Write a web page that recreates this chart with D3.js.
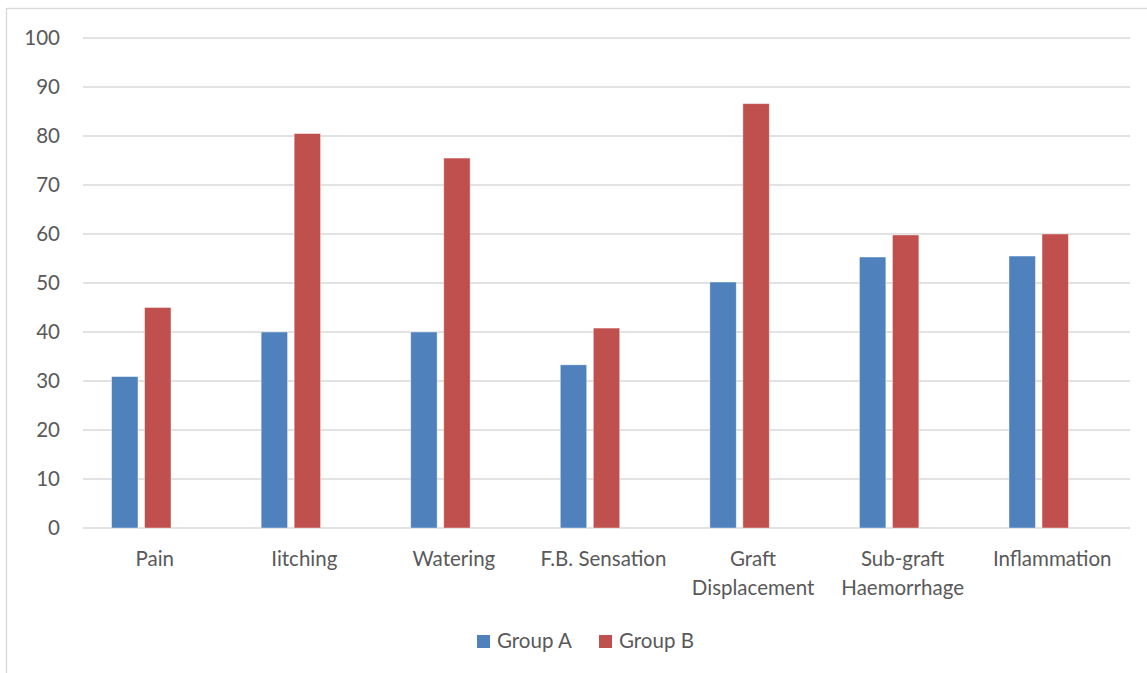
<!DOCTYPE html>
<head>
<meta charset="utf-8">
<script src="https://cdn.jsdelivr.net/npm/d3@7"></script>
<style>
body { margin: 0; background: #fff; }
text { font-family: Lato, "Open Sans", sans-serif; fill: #595959; }
</style>
</head>
<body>
<script>
// chart data
var categories = ["Pain", "Iitching", "Watering", "F.B. Sensation", "Graft Displacement", "Sub-graft Haemorrhage", "Inflammation"];
var seriesNames = ["Group A", "Group B"];
var groupA = [30.9, 40, 40, 33.3, 50.2, 55.3, 55.5];
var groupB = [45, 80.5, 75.5, 40.8, 86.6, 59.8, 60];
var yTicks = [0, 10, 20, 30, 40, 50, 60, 70, 80, 90, 100];
var colors = ["#4F81BD", "#C0504D"];

var width = 1147, height = 673;
var plotLeft = 83, plotRight = 1130, plotTop = 38, plotBottom = 528;
var fontSize = "20.5px";

var svg = d3.select("body").append("svg")
  .attr("width", width)
  .attr("height", height);

// chart frame (runs off the right and bottom edge)
svg.append("rect")
  .attr("x", 6.5).attr("y", 8.5)
  .attr("width", 1200).attr("height", 700)
  .attr("fill", "none").attr("stroke", "#d9d9d9").attr("stroke-width", 1.3);

var y = d3.scaleLinear().domain([0, 100]).range([plotBottom, plotTop]);
var x0 = d3.scaleBand().domain(categories).range([plotLeft, plotRight]);
// three slots per category, the third one is empty in the original
var x1 = d3.scaleBand().domain([0, 1, 2])
  .range([x0.bandwidth() / 2 - 46.2, x0.bandwidth() / 2 + 46.2])
  .paddingInner(0.2);

// gridlines
svg.selectAll(".grid")
  .data(yTicks).enter().append("line")
  .attr("x1", plotLeft).attr("x2", plotRight)
  .attr("y1", function(d) { return y(d); })
  .attr("y2", function(d) { return y(d); })
  .attr("stroke", "#d9d9d9").attr("stroke-width", 1.3);

// y axis labels
var yAxis = svg.append("g")
  .attr("transform", "translate(60,0)")
  .call(d3.axisLeft(y).tickValues(yTicks).tickSize(0).tickPadding(0));
yAxis.select(".domain").remove();
yAxis.selectAll("text")
  .style("font-family", "Lato, 'Open Sans', sans-serif")
  .style("font-size", fontSize)
  .attr("fill", "#595959");

// bars
var series = [groupA, groupB];
series.forEach(function(vals, s) {
  svg.selectAll(".bar" + s)
    .data(vals).enter().append("rect")
    .attr("x", function(d, i) { return x0(categories[i]) + x1(s); })
    .attr("width", x1.bandwidth())
    .attr("y", function(d) { return y(d); })
    .attr("height", function(d) { return y(0) - y(d); })
    .attr("fill", colors[s])
    .attr("stroke", "#fff").attr("stroke-opacity", 0.5).attr("stroke-width", 0.8);
});

// category labels, wrapped to band width
var xAxis = svg.append("g");
categories.forEach(function(c) {
  var cx = x0(c) + x0.bandwidth() / 2 - 3;
  var t = xAxis.append("text")
    .attr("x", cx)
    .attr("y", 566)
    .attr("text-anchor", "middle")
    .style("font-size", fontSize);
  var words = c.split(" "), line = [];
  var ts = t.append("tspan").attr("x", cx);
  words.forEach(function(w) {
    line.push(w);
    ts.text(line.join(" "));
    if (ts.node().getComputedTextLength() > x0.bandwidth() - 4 && line.length > 1) {
      line.pop();
      ts.text(line.join(" "));
      line = [w];
      ts = t.append("tspan").attr("x", cx).attr("dy", 29).text(w);
    }
  });
});

// legend
var legX = [477, 599];
seriesNames.forEach(function(name, s) {
  svg.append("rect")
    .attr("x", legX[s]).attr("y", 635)
    .attr("width", 13).attr("height", 13)
    .attr("fill", colors[s]);
  svg.append("text")
    .attr("x", legX[s] + 20).attr("y", 648)
    .style("font-size", fontSize)
    .text(name);
});
</script>
</body>
